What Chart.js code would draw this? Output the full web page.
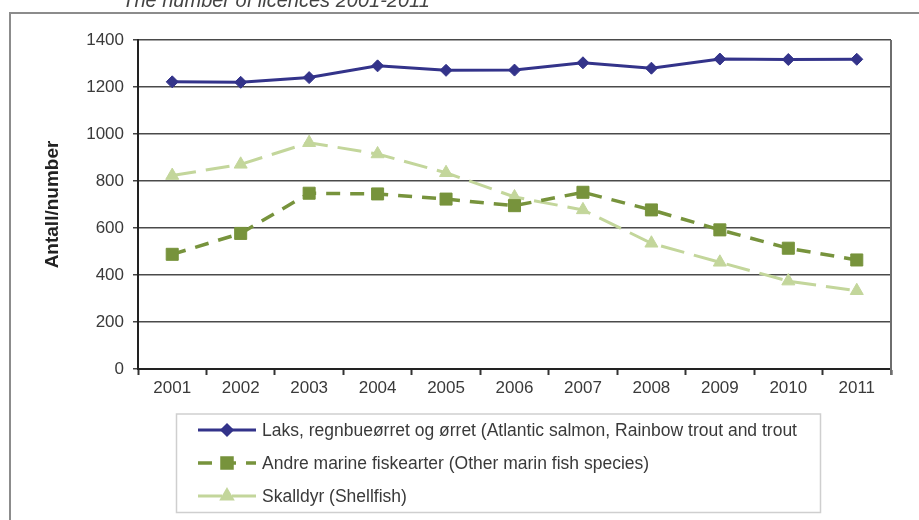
<!DOCTYPE html>
<html>
<head>
<meta charset="utf-8">
<title>Licences 2001-2011</title>
<script src="https://cdn.jsdelivr.net/npm/chart.js"></script>
<style>
  html, body { margin: 0; padding: 0; background: #fff; }
  #wrap { width: 919px; height: 520px; }
</style>
</head>
<body>
<div id="wrap"><canvas id="licences" width="919" height="520"></canvas></div>
<script>
const years = ['2001', '2002', '2003', '2004', '2005', '2006', '2007', '2008', '2009', '2010', '2011'];
const salmonTrout = [1222, 1220, 1240, 1290, 1271, 1272, 1303, 1280, 1319, 1317, 1318];
const otherMarine = [488, 577, 748, 745, 723, 695, 752, 677, 592, 514, 464];
const shellfish = [823, 871, 963, 915, 835, 732, 677, 535, 454, 374, 333];
const seriesNames = [
  'Laks, regnbueørret og ørret (Atlantic salmon, Rainbow trout and trout',
  'Andre marine fiskearter (Other marin fish species)',
  'Skalldyr (Shellfish)'
];
const chartTitle = 'The number of licences 2001-2011';
const yTitle = 'Antall/number';

Chart.defaults.font.family = '"Liberation Sans", Arial, sans-serif';
Chart.defaults.color = '#3a3a3a';

// frame, top title and the boxed legend under the plot
const decorations = {
  id: 'decorations',
  beforeDraw(chart) {
    const ctx = chart.ctx;
    ctx.save();
    ctx.fillStyle = '#fff';
    ctx.fillRect(0, 0, chart.width, chart.height);
    ctx.strokeStyle = '#8c8c8c';
    ctx.lineWidth = 2;
    ctx.beginPath();
    ctx.moveTo(10, chart.height + 5);
    ctx.lineTo(10, 13);
    ctx.lineTo(chart.width + 5, 13);
    ctx.stroke();

    ctx.fillStyle = '#444';
    ctx.font = 'italic 20px "Liberation Sans", Arial, sans-serif';
    ctx.textAlign = 'center';
    ctx.textBaseline = 'alphabetic';
    ctx.fillText(chartTitle, 276, 7);
    ctx.restore();
  },
  afterDraw(chart) {
    const ctx = chart.ctx;
    const area = chart.chartArea;
    ctx.save();
    // right edge of the plot
    ctx.strokeStyle = '#6e6e6e';
    ctx.lineWidth = 2;
    ctx.beginPath();
    ctx.moveTo(area.right, area.top);
    ctx.lineTo(area.right, area.bottom + 6);
    ctx.stroke();

    // legend box
    ctx.strokeStyle = '#cfcfcf';
    ctx.lineWidth = 1.5;
    ctx.strokeRect(176.5, 414, 644, 98.5);

    chart.data.datasets.forEach((ds, i) => {
      const y = 430 + i * 33;
      ctx.save();
      ctx.strokeStyle = ds.borderColor;
      ctx.lineWidth = ds.borderWidth;
      ctx.setLineDash(ds.borderDash || []);
      ctx.beginPath();
      ctx.moveTo(198, y);
      ctx.lineTo(256, y);
      ctx.stroke();
      ctx.restore();

      ctx.save();
      ctx.fillStyle = ds.pointBackgroundColor;
      ctx.strokeStyle = ds.pointBorderColor;
      Chart.helpers.drawPoint(ctx, {
        pointStyle: ds.pointStyle,
        radius: ds.pointRadius,
        borderWidth: 1,
        rotation: 0
      }, 227, y);
      ctx.restore();

      ctx.fillStyle = '#3a3a3a';
      ctx.font = '17.5px "Liberation Sans", Arial, sans-serif';
      ctx.textAlign = 'left';
      ctx.textBaseline = 'middle';
      ctx.fillText(ds.label, 262, y + 1);
    });
    ctx.restore();
  }
};

const ctx = document.getElementById('licences').getContext('2d');

const licenceChart = new Chart(ctx, {
  type: 'line',
  data: {
    labels: years,
    datasets: [{
      label: seriesNames[0],
      data: salmonTrout,
      borderColor: '#33338a',
      backgroundColor: '#33338a',
      pointBackgroundColor: '#33338a',
      pointBorderColor: '#33338a',
      borderWidth: 3,
      pointStyle: 'rectRot',
      pointRadius: 6,
      pointBorderWidth: 1
    }, {
      label: seriesNames[1],
      data: otherMarine,
      borderColor: '#77933c',
      backgroundColor: '#77933c',
      pointBackgroundColor: '#77933c',
      pointBorderColor: '#77933c',
      borderWidth: 3.5,
      borderDash: [14, 10],
      pointStyle: 'rect',
      pointRadius: 8.5,
      pointBorderWidth: 1
    }, {
      label: seriesNames[2],
      data: shellfish,
      borderColor: '#c3d69b',
      backgroundColor: '#c3d69b',
      pointBackgroundColor: '#c3d69b',
      pointBorderColor: '#c3d69b',
      borderWidth: 3,
      borderDash: [24, 10],
      pointStyle: 'triangle',
      pointRadius: 7.5,
      pointBorderWidth: 1
    }]
  },
  options: {
    responsive: false,
    animation: false,
    devicePixelRatio: 1,
    layout: {
      padding: { top: 40, right: 28, left: 0, bottom: 111 }
    },
    scales: {
      x: {
        offset: true,
        afterFit: scale => { scale.height = 40; },
        grid: {
          offset: true,
          drawOnChartArea: false,
          tickLength: 6,
          tickColor: '#333',
          tickWidth: 2
        },
        border: { color: '#222', width: 2 },
        ticks: {
          padding: 3,
          font: { size: 17 },
          maxRotation: 0
        }
      },
      y: {
        min: 0,
        max: 1400,
        afterFit: scale => { scale.width = 138; },
        grid: {
          color: '#4a4a4a',
          lineWidth: 1.5,
          tickLength: 5,
          tickColor: '#444'
        },
        border: { color: '#222', width: 2 },
        ticks: {
          stepSize: 200,
          padding: 9,
          font: { size: 17 },
          callback: value => String(value)
        },
        title: {
          display: true,
          text: yTitle,
          color: '#222',
          font: { size: 19, weight: 'bold' },
          padding: { top: 41, bottom: 0 }
        }
      }
    },
    plugins: {
      legend: { display: false },
      tooltip: { enabled: false }
    }
  },
  plugins: [decorations]
});
</script>
</body>
</html>
